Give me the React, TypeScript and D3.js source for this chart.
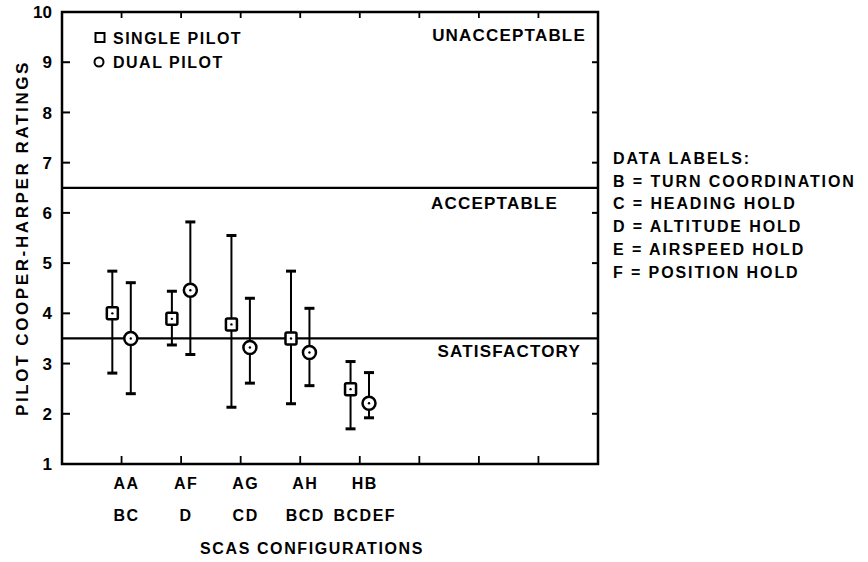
import * as d3 from "d3";

// SCAS configurations (two-row category labels)
const configs = ["AA", "AF", "AG", "AH", "HB"];
const subLabels = ["BC", "D", "CD", "BCD", "BCDEF"];

// Single pilot ratings: mean, upper and lower range
const singleMean = [4.0, 3.89, 3.78, 3.5, 2.49];
const singleHigh = [4.84, 4.44, 5.55, 4.84, 3.04];
const singleLow = [2.81, 3.37, 2.13, 2.2, 1.7];

// Dual pilot ratings
const dualMean = [3.5, 4.46, 3.32, 3.22, 2.21];
const dualHigh = [4.61, 5.82, 4.3, 4.1, 2.82];
const dualLow = [2.4, 3.18, 2.61, 2.56, 1.92];

// Rating boundaries and zone names
const boundaries = [6.5, 3.5];
const zones = [
  { name: "UNACCEPTABLE", value: 9.55, anchor: 586 },
  { name: "ACCEPTABLE", value: 6.2, anchor: 558 },
  { name: "SATISFACTORY", value: 3.25, anchor: 581 },
];

const yTicks = [1, 2, 3, 4, 5, 6, 7, 8, 9, 10];
const xTicks = [1, 2, 3, 4, 5, 6, 7, 8];

const dataLabels = [
  "DATA LABELS:",
  "B = TURN COORDINATION",
  "C = HEADING HOLD",
  "D = ALTITUDE HOLD",
  "E = AIRSPEED HOLD",
  "F = POSITION HOLD",
];

const W = 868;
const H = 562;
const left = 62;
const right = 598;
const font = "'Liberation Sans', Arial, Helvetica, sans-serif";

export default function App() {
  const x = d3.scaleLinear().domain([0, 9]).range([left, right]);
  const y = d3.scaleLinear().domain([1, 10]).range([464, 12]);
  const top = y(10);
  const bottom = y(1);
  const off = 0.155;

  const errBar = (cx: number, lo: number, hi: number, key: string) => (
    <g key={key} stroke="#000">
      <line x1={cx} x2={cx} y1={y(lo)} y2={y(hi)} strokeWidth={2} />
      <line x1={cx - 5} x2={cx + 5} y1={y(lo)} y2={y(lo)} strokeWidth={3} />
      <line x1={cx - 5} x2={cx + 5} y1={y(hi)} y2={y(hi)} strokeWidth={3} />
    </g>
  );

  const square = (cx: number, cy: number, key: string) => (
    <g key={key}>
      <rect x={cx - 5.5} y={cy - 6} width={11} height={12} rx={1.5} fill="#fff" stroke="#000" strokeWidth={2.5} />
      <circle cx={cx} cy={cy} r={1.2} fill="#000" />
    </g>
  );

  const circle = (cx: number, cy: number, key: string) => (
    <g key={key}>
      <circle cx={cx} cy={cy} r={6.5} fill="#fff" stroke="#000" strokeWidth={2.5} />
      <circle cx={cx} cy={cy} r={1.2} fill="#000" />
    </g>
  );

  return (
    <svg
      width={W}
      height={H}
      style={{ position: "absolute", left: 0, top: 0, background: "#fff" }}
      fontFamily={font}
      fontWeight="bold"
    >
      <rect width={W} height={H} fill="#fff" />

      {/* boundaries */}
      {boundaries.map((b) => (
        <line key={b} x1={left} x2={right} y1={y(b)} y2={y(b)} stroke="#000" strokeWidth={2.2} />
      ))}

      {/* frame */}
      <rect x={left} y={top} width={right - left} height={bottom - top} fill="none" stroke="#000" strokeWidth={2.5} />

      {/* y ticks, both sides inward */}
      {yTicks.slice(1, -1).map((t) => (
        <g key={"yt" + t} stroke="#000" strokeWidth={2}>
          <line x1={left} x2={left + 8} y1={y(t)} y2={y(t)} />
          <line x1={right - 6} x2={right} y1={y(t)} y2={y(t)} />
        </g>
      ))}
      {yTicks.map((t) => (
        <text key={"yl" + t} x={52} y={y(t)} dy="0.36em" textAnchor="end" fontSize={17}>
          {t}
        </text>
      ))}

      {/* x ticks top and bottom */}
      {xTicks.map((t) => (
        <g key={"xt" + t} stroke="#000" strokeWidth={1.8}>
          <line x1={x(t)} x2={x(t)} y1={bottom} y2={bottom - 8} />
          <line x1={x(t)} x2={x(t)} y1={top} y2={top + 6} />
        </g>
      ))}

      {/* category labels */}
      {configs.map((c, i) => (
        <g key={"cl" + c} fontSize={16} textAnchor="middle" letterSpacing={1.5}>
          <text x={x(i + 1) + 5} y={489}>{c}</text>
          <text x={x(i + 1) + 5} y={521}>{subLabels[i]}</text>
        </g>
      ))}

      {/* error bars and markers */}
      {configs.map((c, i) => errBar(x(i + 1 - off), singleLow[i], singleHigh[i], "se" + c))}
      {configs.map((c, i) => errBar(x(i + 1 + off), dualLow[i], dualHigh[i], "de" + c))}
      {configs.map((c, i) => square(x(i + 1 - off), y(singleMean[i]), "sm" + c))}
      {configs.map((c, i) => circle(x(i + 1 + off), y(dualMean[i]), "dm" + c))}

      {/* zone labels */}
      {zones.map((z) => (
        <text key={z.name} x={z.anchor} y={y(z.value)} dy="0.36em" textAnchor="end" fontSize={17} letterSpacing={1.2}>
          {z.name}
        </text>
      ))}

      {/* legend */}
      <g fontSize={16} letterSpacing={1.5}>
        <rect x={95.5} y={33} width={9} height={9} fill="#fff" stroke="#000" strokeWidth={2} />
        <text x={113} y={38} dy="0.36em">SINGLE PILOT</text>
        <circle cx={99} cy={62} r={4.5} fill="#fff" stroke="#000" strokeWidth={2} />
        <text x={113} y={62} dy="0.36em">DUAL PILOT</text>
      </g>

      {/* data labels at right */}
      {dataLabels.map((d, i) => (
        <text key={d} x={613} y={158 + i * 22.8} dy="0.36em" fontSize={16} letterSpacing={1.9}>
          {d}
        </text>
      ))}

      {/* axis titles */}
      <text
        transform={`translate(22,${(top + bottom) / 2}) rotate(-90)`}
        textAnchor="middle"
        dy="0.36em"
        fontSize={17}
        letterSpacing={2.6}
      >
        PILOT COOPER-HARPER RATINGS
      </text>
      <text x={312} y={548} dy="0.36em" textAnchor="middle" fontSize={16} letterSpacing={1.6}>
        SCAS CONFIGURATIONS
      </text>
    </svg>
  );
}
